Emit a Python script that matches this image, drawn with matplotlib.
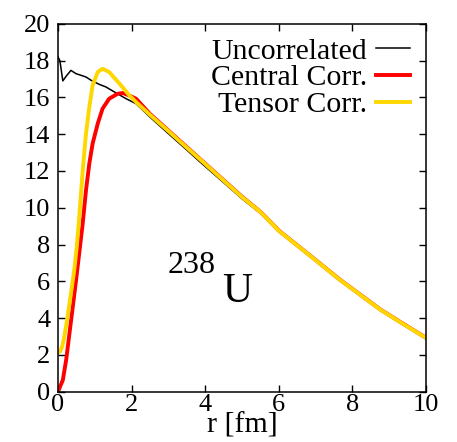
import matplotlib
matplotlib.use("Agg")
import matplotlib.pyplot as plt

plt.rcParams['font.family'] = ['Liberation Serif', 'DejaVu Serif']

# Uncorrelated density
r_unc = [0.0, 0.05, 0.13, 0.22, 0.35, 0.49, 0.63, 0.76, 0.9, 1.12, 1.3, 1.58, 1.85, 2.12,
         2.5, 3.0, 3.5, 3.86, 4.5, 5.0, 5.5, 6.0, 6.5, 7.0, 7.66, 8.0, 8.75, 9.3, 10.0]
y_unc = [18.2, 18.0, 16.9, 17.15, 17.47, 17.29, 17.2, 17.11, 16.93, 16.71, 16.57, 16.24, 15.93, 15.66,
         14.93, 14.03, 13.14, 12.49, 11.37, 10.49, 9.7, 8.72, 7.93, 7.13, 6.06, 5.56, 4.45, 3.76, 2.9]

# Central correlations
r_cen = [0.0, 0.13, 0.22, 0.31, 0.4, 0.49, 0.58, 0.67, 0.76, 0.85, 0.94, 1.08, 1.21, 1.39, 1.62,
         1.76, 1.94, 2.12, 2.5, 3.0, 3.5, 3.86, 4.5, 5.0, 5.5, 6.0, 6.5, 7.0, 7.66, 8.0, 8.75, 9.3, 10.0]
y_cen = [0.0, 0.63, 1.71, 3.16, 4.6, 6.06, 7.6, 9.14, 10.95, 12.4, 13.49, 14.58, 15.39, 15.93, 16.2,
         16.24, 16.1, 15.93, 15.1, 14.2, 13.3, 12.65, 11.5, 10.6, 9.78, 8.76, 7.96, 7.16, 6.09, 5.59, 4.48, 3.79, 2.93]

# Tensor correlations
r_ten = [0.0, 0.06, 0.12, 0.17, 0.26, 0.35, 0.44, 0.51, 0.58, 0.67, 0.76, 0.85, 0.94, 1.08, 1.21,
         1.39, 1.67, 1.94, 2.12, 2.5, 3.0, 3.5, 3.86, 4.5, 5.0, 5.5, 6.0, 6.5, 7.0, 7.66, 8.0, 8.75, 9.3, 10.0]
y_ten = [2.1, 2.2, 2.5, 2.98, 4.07, 5.33, 6.6, 7.9, 9.6, 12.0, 14.03, 15.48, 16.66, 17.38, 17.56,
         17.38, 16.75, 16.11, 15.75, 15.05, 14.17, 13.27, 12.63, 11.48, 10.58, 9.77, 8.75, 7.95, 7.15, 6.08, 5.58, 4.47, 3.78, 2.92]

fig = plt.figure(figsize=(4.57, 4.42), dpi=100)
ax = fig.add_axes([0.127, 0.114, 0.805, 0.832])

ax.plot(r_unc, y_unc, color='black', lw=1.1, label='Uncorrelated')
ax.plot(r_cen, y_cen, color='#ff0000', lw=2.8, label='Central Corr.')
ax.plot(r_ten, y_ten, color='#ffd700', lw=2.8, label='Tensor Corr.')

ax.set_xlim(0, 10)
ax.set_ylim(0, 20)
ax.set_xticks(range(0, 11, 2))
ax.set_yticks(range(0, 21, 2))
ax.tick_params(direction='in', top=True, right=True, length=5, width=1.0, labelsize=19)
ax.tick_params(axis='x', pad=2)
ax.tick_params(axis='y', pad=5.5)
for s in ax.spines.values():
    s.set_linewidth(1.1)
ax.set_xlabel('r [fm]', fontsize=21.5, labelpad=-3)

ax.text(2.97, 6.44, '238', fontsize=23, va='baseline', ha='left')
ax.text(4.45, 4.88, 'U', fontsize=30, va='baseline', ha='left')

leg = ax.legend(loc='upper right', bbox_to_anchor=(0.99, 0.995), frameon=False,
                markerfirst=False, fontsize=21.5, handlelength=1.15, handletextpad=0.3,
                labelspacing=0.0, borderaxespad=0.0)

fig.savefig('out.png', dpi=100)
